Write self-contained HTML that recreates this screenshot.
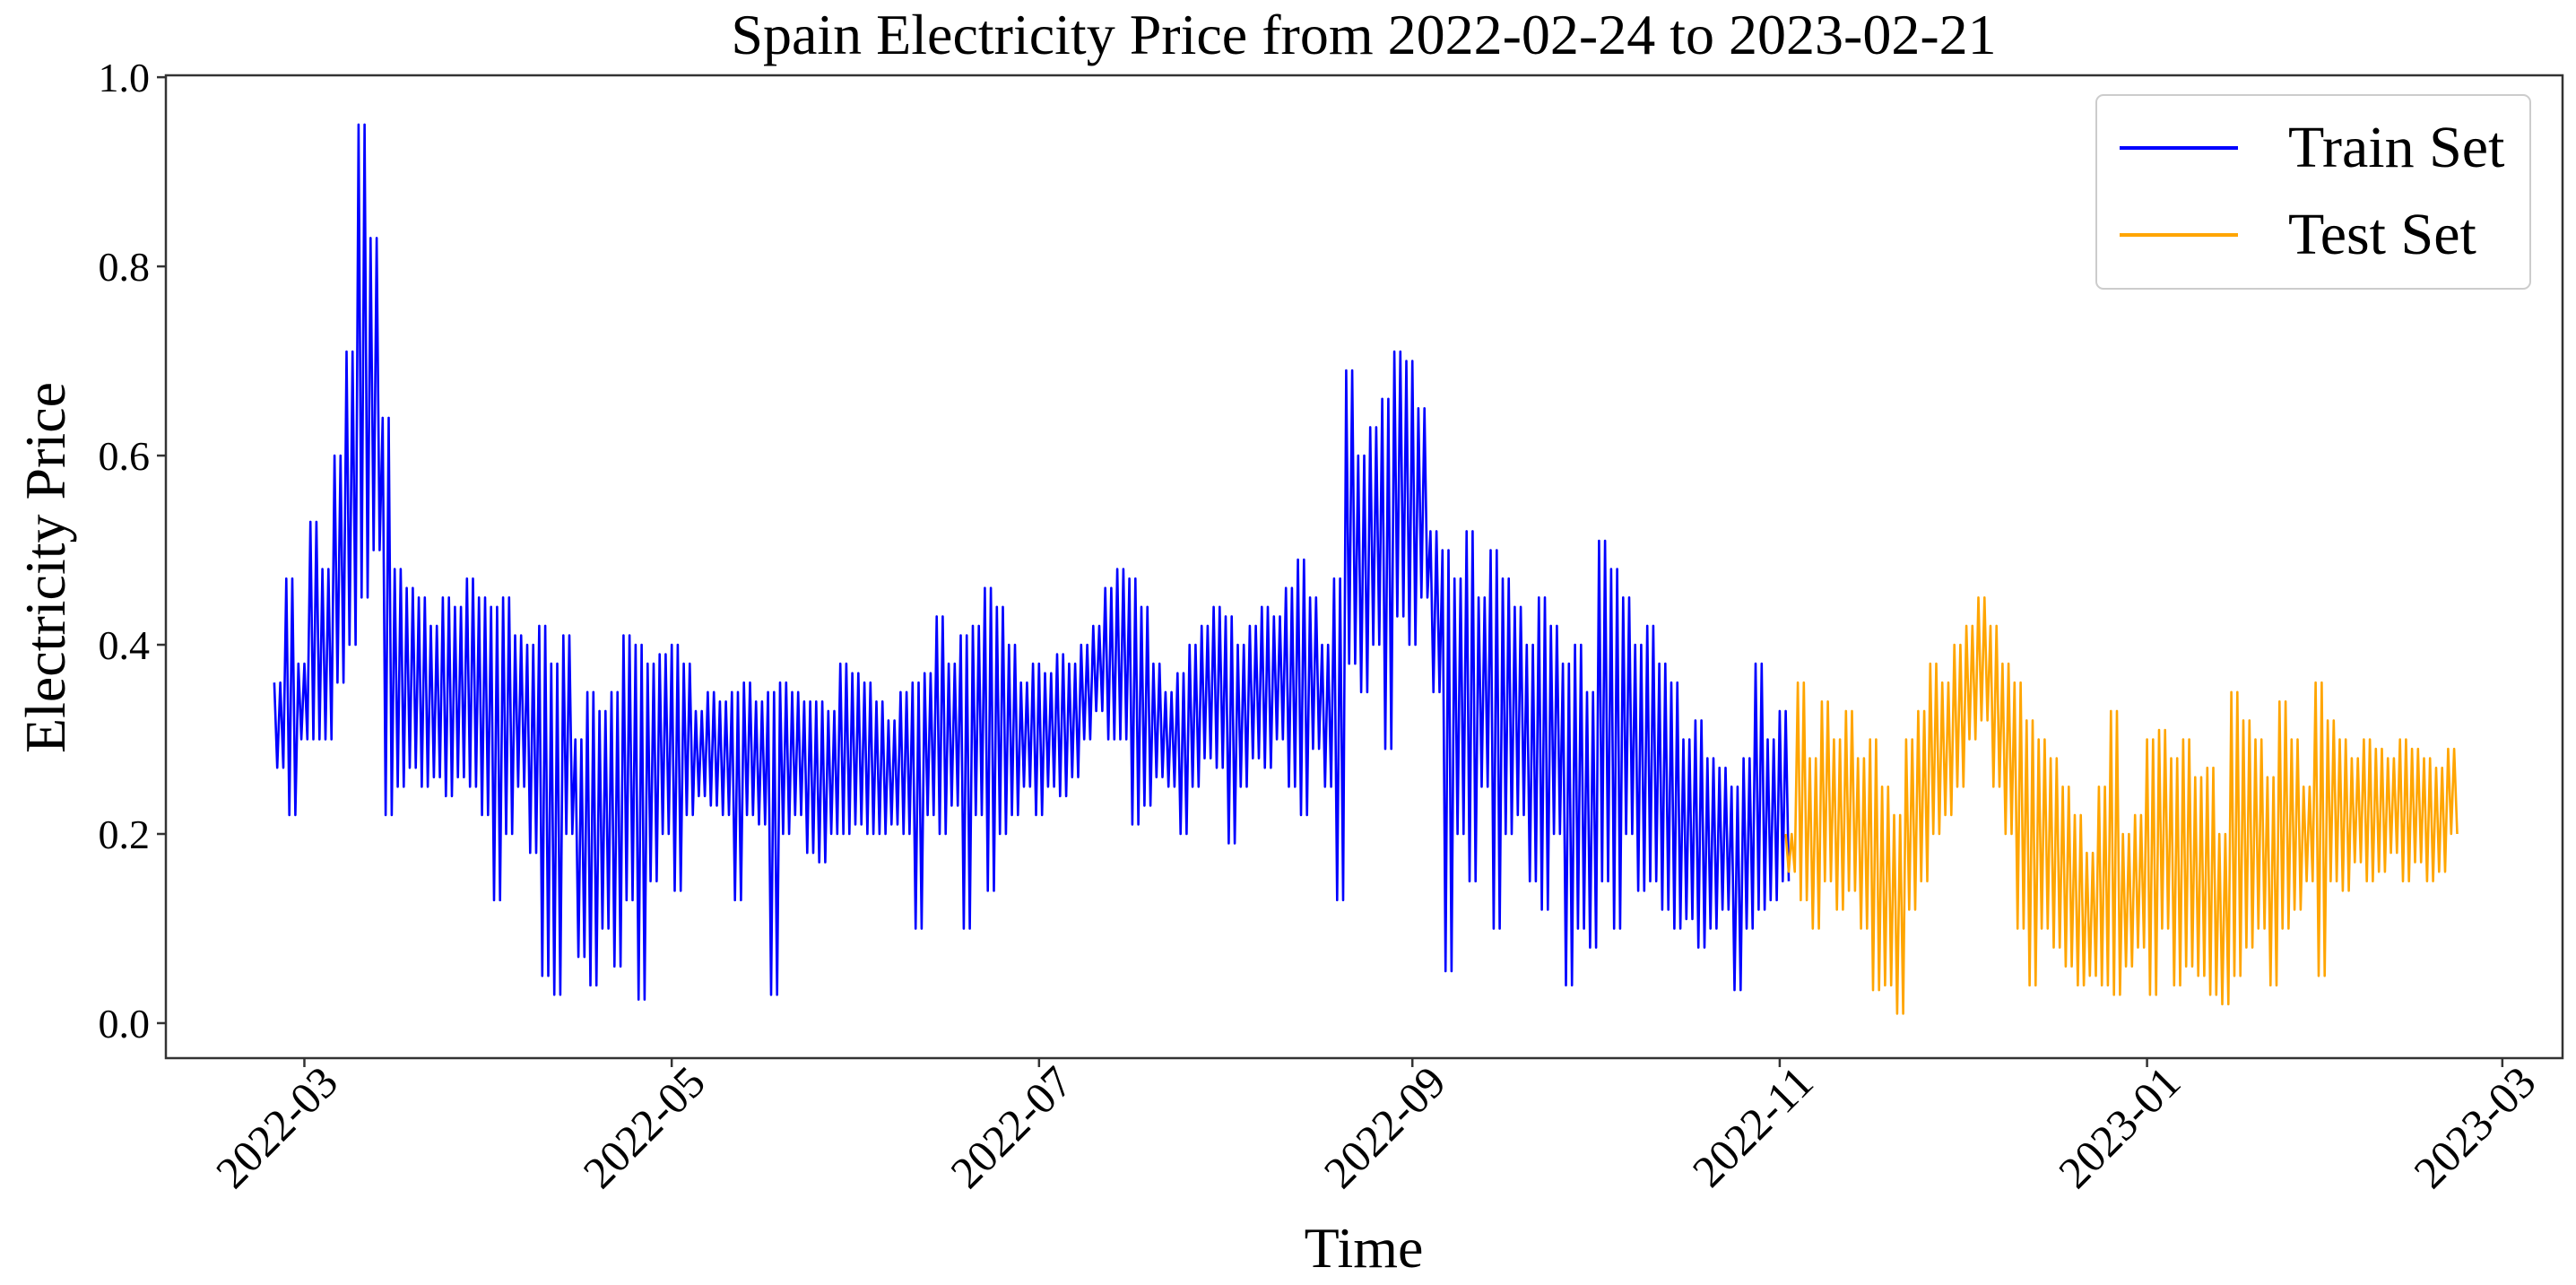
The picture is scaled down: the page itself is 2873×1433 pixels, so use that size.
<!DOCTYPE html>
<html><head><meta charset="utf-8"><style>
html,body{margin:0;padding:0;background:#fff;}
svg{display:block;font-family:"Liberation Serif",serif;}
</style></head><body>
<svg id="chart" width="2873" height="1433" viewBox="0 0 2873 1433" xmlns="http://www.w3.org/2000/svg">
<rect width="2873" height="1433" fill="#fff"/>
<text x="1521" y="60" font-size="64" text-anchor="middle">Spain Electricity Price from 2022-02-24 to 2023-02-21</text>
<text transform="translate(72,633) rotate(-90)" font-size="64" text-anchor="middle">Electricity Price</text>
<text x="1521" y="1413" font-size="64" text-anchor="middle">Time</text>
<g id="series"></g>
<g id="axes"></g>
<g>
<rect x="2338" y="106" width="484" height="216" rx="8" fill="#fff" fill-opacity="0.85" stroke="#ccc" stroke-width="2"/>
<line x1="2364" y1="165" x2="2496" y2="165" stroke="#0000ff" stroke-width="4"/>
<text x="2552" y="186" font-size="66">Train Set</text>
<line x1="2364" y1="262" x2="2496" y2="262" stroke="#ffa500" stroke-width="4"/>
<text x="2552" y="283" font-size="66">Test Set</text>
</g>
</svg>
<script>
const trainStart = "2022-02-24";
const testStart = "2022-11-02";
const trainHigh = [0.36,0.47,0.38,
0.53,0.48,0.6,0.71,0.95,
0.83,0.64,
0.48,0.46,0.45,0.42,0.45,0.44,0.47,0.45,
0.44,0.45,0.41,0.4,0.42,0.38,0.41,
0.3,0.35,0.33,0.35,0.41,0.4,0.38,0.39,
0.4,0.38,0.33,0.35,0.34,0.35,0.36,0.34,0.35,0.36,0.35,0.34,0.34,0.33,0.38,0.37,
0.36,0.34,0.32,0.35,0.36,0.37,0.43,0.38,0.41,0.42,0.46,0.44,0.4,0.36,0.38,
0.37,0.39,0.38,0.4,0.42,0.46,0.48,0.47,0.44,0.38,0.35,0.37,0.4,0.42,0.44,
0.43,0.4,0.42,0.44,0.43,0.46,0.49,0.45,0.4,0.47,
0.69,0.6,0.63,0.66,0.71,0.7,0.65,0.52,
0.5,0.47,0.52,0.45,0.5,0.47,0.44,0.4,0.45,0.42,0.38,0.4,0.35,
0.51,0.48,0.45,0.4,0.42,0.38,0.36,
0.3,0.32,0.28,0.27,0.25,0.28,0.38,0.3,0.33];
const trainLow = [0.27,0.22,0.3,
0.3,0.3,0.36,0.4,0.45,
0.5,0.22,
0.25,0.27,0.25,0.26,0.24,0.26,0.25,0.22,
0.13,0.2,0.25,0.18,0.05,0.03,0.2,
0.07,0.04,0.1,0.06,0.13,0.025,0.15,0.2,
0.14,0.22,0.24,0.23,0.22,0.13,0.22,0.21,0.03,0.2,0.22,0.18,0.17,0.2,0.2,0.21,
0.2,0.2,0.21,0.2,0.1,0.22,0.2,0.23,0.1,0.22,0.14,0.2,0.22,0.25,0.22,
0.25,0.24,0.26,0.3,0.33,0.3,0.3,0.21,0.23,0.26,0.25,0.2,0.25,0.28,0.27,
0.19,0.25,0.28,0.27,0.3,0.25,0.22,0.29,0.25,0.13,
0.38,0.35,0.4,0.29,0.43,0.4,0.45,0.35,
0.055,0.2,0.15,0.25,0.1,0.2,0.22,0.15,0.12,0.2,0.04,0.1,0.08,
0.15,0.1,0.2,0.14,0.15,0.12,0.1,
0.11,0.08,0.1,0.12,0.035,0.1,0.12,0.13,0.15];
const testHigh = [0.2,0.36,0.28,0.34,0.3,0.33,0.28,0.3,0.25,
0.22,0.3,0.33,0.38,0.36,0.4,0.42,0.45,
0.42,0.38,0.36,0.32,0.3,0.28,0.25,
0.22,0.18,0.25,0.33,0.2,0.22,0.3,0.31,
0.28,0.3,0.26,0.27,0.2,0.35,0.32,0.3,
0.26,0.34,0.3,0.25,0.36,0.32,0.3,0.28,
0.3,0.29,0.28,0.3,0.29,0.28,0.27,0.29];
const testLow = [0.16,0.13,0.1,0.15,0.12,0.14,0.1,0.035,0.04,
0.01,0.12,0.15,0.2,0.22,0.25,0.3,0.32,
0.25,0.2,0.1,0.04,0.1,0.08,0.06,
0.04,0.05,0.04,0.03,0.06,0.08,0.03,0.1,
0.04,0.06,0.05,0.03,0.02,0.05,0.08,0.1,
0.04,0.1,0.12,0.15,0.05,0.15,0.14,0.17,
0.15,0.16,0.18,0.15,0.17,0.15,0.16,0.2];
const yTicks = [0.0,0.2,0.4,0.6,0.8,1.0];
const xTickLabels = ["2022-03","2022-05","2022-07","2022-09","2022-11","2023-01","2023-03"];

const NS = "http://www.w3.org/2000/svg";
const DAY = 86400000;
const X0 = 185, X1 = 2858, Y0 = 1180, Y1 = 84;
const xMin = Date.UTC(2022,1,6), xMax = Date.UTC(2023,2,11);
const yMin = -0.037, yMax = 1.002;
function xs(t){ return X0 + (t - xMin) / (xMax - xMin) * (X1 - X0); }
function ys(v){ return Y0 - (v - yMin) / (yMax - yMin) * (Y0 - Y1); }
function parse(s){ const p = s.split("-").map(Number); return Date.UTC(p[0], p[1]-1, p[2] || 1); }

const series = document.getElementById("series");
function drawSeries(start, hi, lo, color, name){
  const t0 = parse(start);
  const pts = [];
  const STEPS = 4; // daily oscillation between each period's high and low
  for (let i = 0; i < hi.length; i++){
    for (let k = 0; k < STEPS; k++){
      const t = t0 + (2*i + 2*k/STEPS) * DAY;
      const v = (k % 2 === 0) ? hi[i] : lo[i];
      pts.push(xs(t).toFixed(1) + "," + ys(v).toFixed(1));
    }
  }
  const pl = document.createElementNS(NS, "polyline");
  pl.setAttribute("points", pts.join(" "));
  pl.setAttribute("fill", "none");
  pl.setAttribute("stroke", color);
  pl.setAttribute("stroke-width", "2.6");
  pl.setAttribute("stroke-linejoin", "round");
  
  
  series.appendChild(pl);
}
drawSeries(trainStart, trainHigh, trainLow, "#0000ff", "train-set-line");
drawSeries(testStart, testHigh, testLow, "#ffa500", "test-set-line");

const axes = document.getElementById("axes");
const frame = document.createElementNS(NS, "rect");
frame.setAttribute("x", X0); frame.setAttribute("y", Y1);
frame.setAttribute("width", X1 - X0); frame.setAttribute("height", Y0 - Y1);
frame.setAttribute("fill", "none"); frame.setAttribute("stroke", "#333"); frame.setAttribute("stroke-width", "2.5");


axes.appendChild(frame);

yTicks.forEach(v => {
  const y = ys(v);
  const tk = document.createElementNS(NS, "line");
  tk.setAttribute("x1", X0 - 10); tk.setAttribute("x2", X0);
  tk.setAttribute("y1", y); tk.setAttribute("y2", y);
  tk.setAttribute("stroke", "#333"); tk.setAttribute("stroke-width", "2.5");
  
  
  axes.appendChild(tk);
  const tx = document.createElementNS(NS, "text");
  tx.setAttribute("x", X0 - 18); tx.setAttribute("y", y + 16);
  tx.setAttribute("font-size", "46"); tx.setAttribute("text-anchor", "end");
  tx.textContent = v.toFixed(1);
  
  
  axes.appendChild(tx);
});

xTickLabels.forEach(s => {
  const x = xs(parse(s));
  const tk = document.createElementNS(NS, "line");
  tk.setAttribute("x1", x); tk.setAttribute("x2", x);
  tk.setAttribute("y1", Y0); tk.setAttribute("y2", Y0 + 10);
  tk.setAttribute("stroke", "#333"); tk.setAttribute("stroke-width", "2.5");
  
  
  axes.appendChild(tk);
  const tx = document.createElementNS(NS, "text");
  tx.setAttribute("transform", "translate(" + (x + 40) + "," + (Y0 + 30) + ") rotate(-45)");
  tx.setAttribute("font-size", "50"); tx.setAttribute("text-anchor", "end");
  tx.textContent = s;
  
  
  axes.appendChild(tx);
});
</script>
</body></html>
